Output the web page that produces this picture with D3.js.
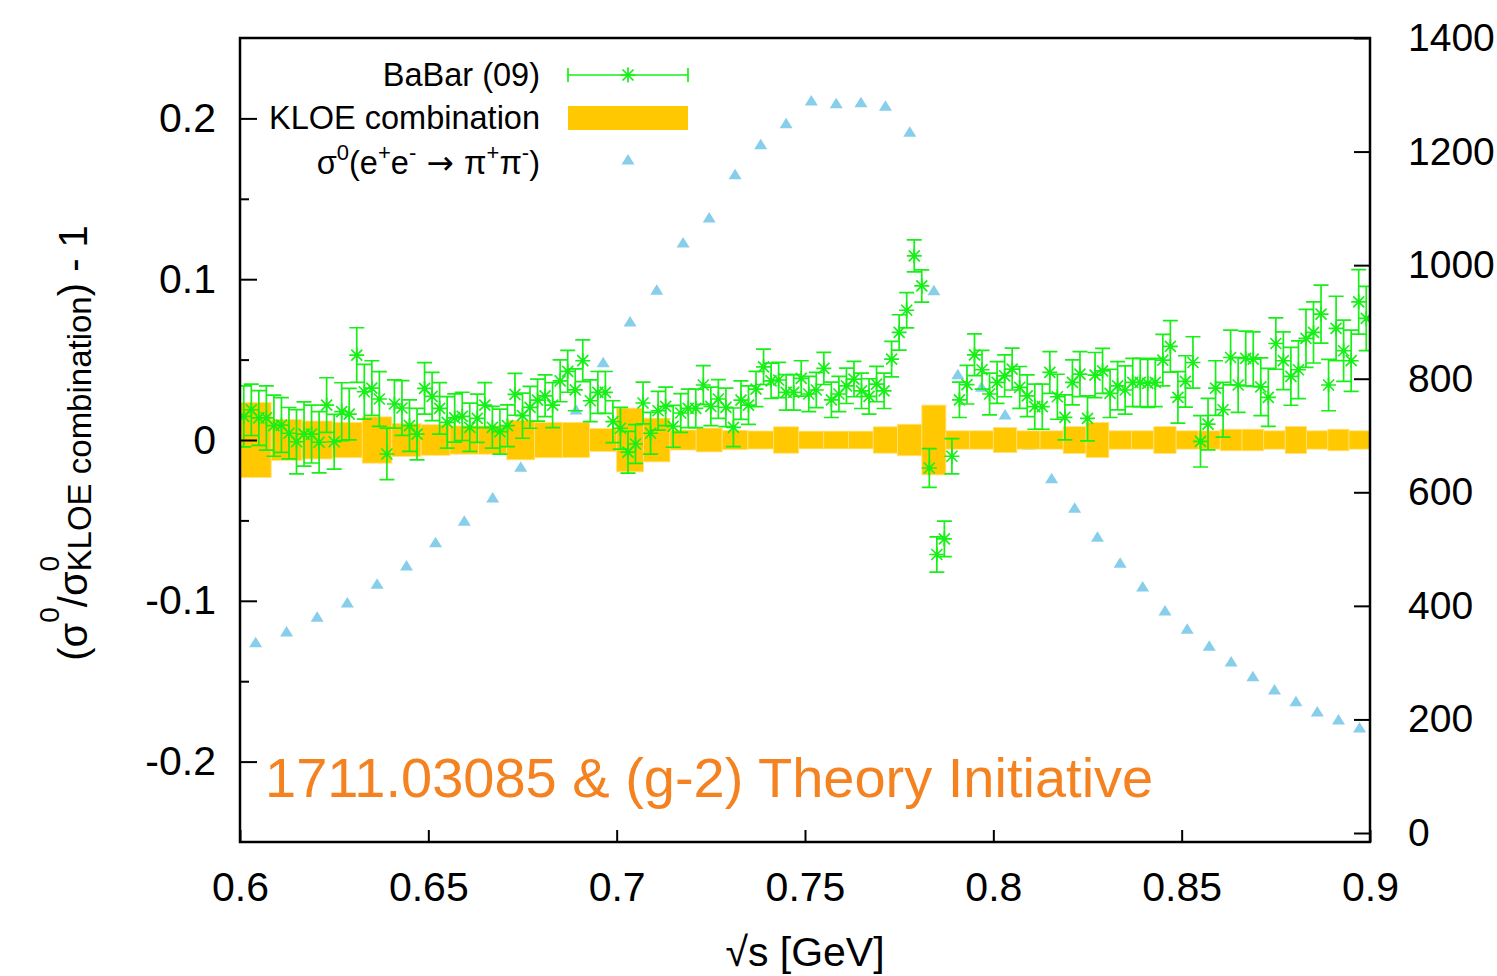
<!DOCTYPE html>
<html>
<head>
<meta charset="utf-8">
<script src="https://cdn.jsdelivr.net/npm/d3@7"></script>
<style>
  body { margin: 0; background: #fff; }
  svg text { font-family: "Liberation Sans", Arial, Helvetica, sans-serif; }
</style>
</head>
<body>
<div id="viz"></div>
<script>
// BaBar (09) points: sqrt(s) [GeV], relative difference, error
var babarE = [
  0.601,0.603,0.605,0.607,0.609,0.611,0.613,0.615,0.617,0.619,
  0.621,0.623,0.625,0.627,0.629,0.631,0.633,0.635,0.637,0.639,
  0.641,0.643,0.645,0.647,0.649,0.651,0.653,0.655,0.657,0.659,
  0.661,0.663,0.665,0.667,0.669,0.671,0.673,0.675,0.677,0.679,
  0.681,0.683,0.685,0.687,0.689,0.691,0.693,0.695,0.697,0.699,
  0.701,0.703,0.705,0.707,0.709,0.711,0.713,0.715,0.717,0.719,
  0.721,0.723,0.725,0.727,0.729,0.731,0.733,0.735,0.737,0.739,
  0.741,0.743,0.745,0.747,0.749,0.751,0.753,0.755,0.757,0.759,
  0.761,0.763,0.765,0.767,0.769,0.771,0.773,0.775,0.777,0.779,
  0.781,0.783,0.785,0.787,0.789,0.791,0.793,0.795,0.797,0.799,
  0.801,0.803,0.805,0.807,0.809,0.811,0.813,0.815,0.817,0.819,
  0.821,0.823,0.825,0.827,0.829,0.831,0.833,0.835,0.837,0.839,
  0.841,0.843,0.845,0.847,0.849,0.851,0.853,0.855,0.857,0.859,
  0.861,0.863,0.865,0.867,0.869,0.871,0.873,0.875,0.877,0.879,
  0.881,0.883,0.885,0.887,0.889,0.891,0.893,0.895,0.897,0.899
];
var babarRel = [
  0.0147,0.0188,0.0137,0.0137,0.0089,0.0093,0.0042,-0.0011,0.0037,0.0037,
  -0.0014,0.0217,-0.0011,0.0176,0.0161,0.0528,0.0300,0.0323,0.0255,-0.0087,
  0.0224,0.0199,0.0089,0.0037,0.0321,0.0271,0.0197,0.0110,0.0137,0.0147,
  0.0079,0.0135,0.0217,0.0079,0.0052,0.0089,0.0284,0.0151,0.0203,0.0248,
  0.0275,0.0217,0.0368,0.0427,0.0312,0.0493,0.0244,0.0296,0.0296,0.0114,
  0.0073,-0.0076,-0.0025,0.0230,0.0042,0.0182,0.0209,0.0085,0.0168,0.0197,
  0.0197,0.0342,0.0209,0.0255,0.0203,0.0079,0.0248,0.0217,0.0317,0.0455,
  0.0368,0.0373,0.0296,0.0296,0.0383,0.0286,0.0311,0.0445,0.0250,0.0286,
  0.0337,0.0379,0.0306,0.0271,0.0348,0.0306,0.0503,0.0669,0.0807,0.1145,
  0.0958,-0.0174,-0.0712,-0.0615,-0.0101,0.0250,0.0344,0.0530,0.0437,0.0286,
  0.0358,0.0399,0.0441,0.0327,0.0275,0.0207,0.0207,0.0420,0.0269,0.0141,
  0.0358,0.0410,0.0135,0.0404,0.0430,0.0290,0.0337,0.0311,0.0358,0.0358,
  0.0352,0.0358,0.0497,0.0582,0.0265,0.0364,0.0482,-0.0008,0.0099,0.0323,
  0.0188,0.0513,0.0342,0.0507,0.0503,0.0331,0.0265,0.0600,0.0493,0.0396,
  0.0437,0.0632,0.0669,0.0783,0.0342,0.0694,0.0555,0.0493,0.0859,0.0756
];
var babarErr = [
  0.019,0.016,0.017,0.020,0.019,0.017,0.016,0.020,0.020,0.018,
  0.019,0.017,0.017,0.018,0.016,0.017,0.017,0.017,0.017,0.016,
  0.015,0.017,0.016,0.016,0.016,0.015,0.016,0.016,0.015,0.015,
  0.015,0.015,0.014,0.013,0.014,0.013,0.013,0.014,0.013,0.013,
  0.013,0.014,0.013,0.013,0.013,0.013,0.013,0.013,0.013,0.013,
  0.013,0.013,0.012,0.013,0.013,0.012,0.012,0.013,0.012,0.012,
  0.012,0.012,0.012,0.012,0.012,0.012,0.012,0.012,0.011,0.011,
  0.011,0.011,0.011,0.011,0.011,0.011,0.011,0.010,0.011,0.011,
  0.011,0.011,0.011,0.011,0.011,0.011,0.011,0.011,0.011,0.010,
  0.010,0.012,0.011,0.011,0.011,0.011,0.012,0.013,0.012,0.013,
  0.013,0.013,0.013,0.013,0.013,0.014,0.014,0.013,0.014,0.014,
  0.014,0.014,0.014,0.014,0.014,0.015,0.015,0.015,0.015,0.015,
  0.015,0.015,0.016,0.016,0.016,0.016,0.016,0.016,0.016,0.017,
  0.017,0.017,0.017,0.017,0.017,0.018,0.018,0.016,0.018,0.018,
  0.018,0.018,0.019,0.018,0.016,0.020,0.019,0.019,0.020,0.020
];

// KLOE combination: bins of 0.01 GeV^2 in s (lower edges), band half-height, cross section [nb]
var kloeS = [
  0.36,0.37,0.38,0.39,0.40,0.41,0.42,0.43,0.44,0.45,
  0.46,0.47,0.48,0.49,0.50,0.51,0.52,0.53,0.54,0.55,
  0.56,0.57,0.58,0.59,0.60,0.61,0.62,0.63,0.64,0.65,
  0.66,0.67,0.68,0.69,0.70,0.71,0.72,0.73,0.74,0.75,
  0.76,0.77,0.78,0.79,0.80
];
var kloeErr = [
  0.0233,0.0127,0.0118,0.0110,0.0144,0.0102,0.0095,0.0088,0.0088,0.0123,
  0.0110,0.0109,0.0071,0.0198,0.0136,0.0062,0.0074,0.0060,0.0056,0.0082,
  0.0055,0.0055,0.0055,0.0082,0.0098,0.0217,0.0057,0.0057,0.0078,0.0057,
  0.0057,0.0083,0.0109,0.0057,0.0057,0.0083,0.0057,0.0057,0.0067,0.0067,
  0.0057,0.0084,0.0057,0.0067,0.0057
];
var sigma0 = [
  335,354,380,405,438,470,511,549,590,644,
  694,745,828,900,956,1039,1083,1159,1212,1249,
  1289,1284,1286,1280,1234,955,807,785,736,683,
  624,572,521,475,433,391,359,329,301,275,
  252,231,213,199,185
];
var binWidthS = 0.01;

var leftTicks = [-0.2, -0.1, 0, 0.1, 0.2];
var leftMinor = [-0.15, -0.05, 0.05, 0.15];
var rightTicks = [0, 200, 400, 600, 800, 1000, 1200, 1400];
var xTicks = [0.6, 0.65, 0.7, 0.75, 0.8, 0.85, 0.9];

function drawChart() {
  var green = "#17f017";
  var yellow = "#ffc800";
  var sky = "#87ceeb";

  var W = 1497, H = 976;
  // plot frame in pixels
  var pL = 240, pR = 1370, pT = 38, pB = 842;

  var svg = d3.select("#viz").append("svg")
      .attr("width", W)
      .attr("height", H);

  var x = d3.scaleLinear().domain([0.6, 0.9]).range([pL, pR]);
  var y = d3.scaleLinear().domain([-0.25, 0.25]).range([pB, pT]);
  var yR = d3.scaleLinear().domain([0, 1400]).range([833, pT]);

  svg.append("clipPath").attr("id", "plotclip")
    .append("rect")
      .attr("x", pL).attr("y", pT)
      .attr("width", pR - pL).attr("height", pB - pT);

  var plot = svg.append("g").attr("clip-path", "url(#plotclip)");

  var triPath = "M0,-6L6.5,4.5L-6.5,4.5Z";
  var starPath = "M-7.5,0H7.5M0,-7.5V7.5M-5.5,-5.5L5.5,5.5M-5.5,5.5L5.5,-5.5";

  var kloe = kloeS.map(function(s, i) {
    return {lo: Math.sqrt(s), hi: Math.sqrt(s + binWidthS), mid: Math.sqrt(s + binWidthS / 2),
            err: kloeErr[i], sig: sigma0[i]};
  });
  var babar = babarE.map(function(e, i) {
    return {e: e, v: babarRel[i], err: babarErr[i]};
  });

  // sigma0 triangles (right axis)
  plot.append("g").selectAll("path")
    .data(kloe)
    .enter().append("path")
      .attr("d", triPath)
      .attr("fill", sky)
      .attr("transform", function(d) { return "translate(" + x(d.mid) + "," + yR(d.sig) + ")"; });

  // KLOE band
  plot.append("g").selectAll("rect")
    .data(kloe)
    .enter().append("rect")
      .attr("x", function(d) { return x(d.lo); })
      .attr("width", function(d) { return x(d.hi) - x(d.lo); })
      .attr("y", function(d) { return y(d.err); })
      .attr("height", function(d) { return y(-d.err) - y(d.err); })
      .attr("fill", yellow)
      .attr("stroke", "#ffe27a")
      .attr("stroke-width", 0.8);

  // BaBar points with error bars
  var pts = plot.append("g")
      .attr("stroke", green)
      .attr("stroke-width", 1.7)
      .attr("fill", "none")
    .selectAll("g")
    .data(babar)
    .enter().append("g");

  pts.append("path")
    .attr("d", function(d) {
      var px = x(d.e), y1 = y(d.v + d.err), y2 = y(d.v - d.err);
      return "M" + px + "," + y1 + "V" + y2 +
             "M" + (px - 7.5) + "," + y1 + "H" + (px + 7.5) +
             "M" + (px - 7.5) + "," + y2 + "H" + (px + 7.5);
    });
  pts.append("path")
    .attr("d", starPath)
    .attr("transform", function(d) { return "translate(" + x(d.e) + "," + y(d.v) + ")"; });
  pts.append("circle")
    .attr("cx", function(d) { return x(d.e); })
    .attr("cy", function(d) { return y(d.v); })
    .attr("r", 2.3)
    .attr("fill", green)
    .attr("stroke", "none");

  // axes
  function styleAxis(g, fs) {
    g.select(".domain").remove();
    g.selectAll(".tick line").attr("stroke", "#000").attr("stroke-width", 2);
    g.selectAll(".tick text").attr("font-size", fs).attr("fill", "#000")
      .attr("font-family", "'Liberation Sans', Arial, sans-serif");
  }

  svg.append("g")
      .attr("transform", "translate(" + pL + ",0)")
      .call(d3.axisLeft(y).tickValues(leftTicks).tickSize(-17).tickPadding(24)
        .tickFormat(function(d) { return d === 0 ? "0" : String(d); }))
      .call(styleAxis, 41);

  svg.append("g")
      .attr("transform", "translate(" + pL + ",0)")
      .call(d3.axisLeft(y).tickValues(leftMinor).tickSize(-9).tickFormat(""))
      .call(styleAxis, 40);

  svg.append("g")
      .attr("transform", "translate(" + pR + ",0)")
      .call(d3.axisRight(yR).tickValues(rightTicks).tickSize(-16).tickPadding(38)
        .tickFormat(function(d) { return String(d); }))
      .call(styleAxis, 39);

  svg.append("g")
      .attr("transform", "translate(0," + pB + ")")
      .call(d3.axisBottom(x).tickValues(xTicks).tickSize(-12).tickPadding(30)
        .tickFormat(function(d) { return String(d); }))
      .call(styleAxis, 41);

  // frame
  svg.append("rect")
      .attr("x", pL).attr("y", pT)
      .attr("width", pR - pL).attr("height", pB - pT)
      .attr("fill", "none")
      .attr("stroke", "#000")
      .attr("stroke-width", 2.5);

  // axis titles
  svg.append("text")
      .attr("x", 805).attr("y", 966)
      .attr("text-anchor", "middle")
      .attr("font-size", 41)
      .text("\u221As [GeV]");

  var yt = svg.append("text")
      .attr("transform", "translate(87,443) rotate(-90)")
      .attr("text-anchor", "middle")
      .attr("font-size", 40);
  yt.append("tspan").text("(\u03c3");
  yt.append("tspan").attr("font-size", 28).attr("dy", -28).text("0");
  yt.append("tspan").attr("dy", 28).text("/\u03c3");
  yt.append("tspan").attr("font-size", 28).attr("dy", -28).text("0");
  yt.append("tspan").attr("font-size", 33).attr("dx", -15.6).attr("dy", 32).text("KLOE combination");
  yt.append("tspan").attr("dy", -4).text(") - 1");

  // legend
  var lg = svg.append("g").attr("font-size", 32.5);
  lg.append("text").attr("x", 540).attr("y", 86).attr("text-anchor", "end").text("BaBar (09)");
  lg.append("text").attr("x", 540).attr("y", 129).attr("text-anchor", "end").text("KLOE combination");
  var st = lg.append("text").attr("x", 540).attr("y", 174).attr("text-anchor", "end");
  st.append("tspan").text("\u03c3");
  st.append("tspan").attr("font-size", 22).attr("dy", -14).text("0");
  st.append("tspan").attr("dy", 14).text("(e");
  st.append("tspan").attr("font-size", 22).attr("dy", -14).text("+");
  st.append("tspan").attr("dy", 14).text("e");
  st.append("tspan").attr("font-size", 22).attr("dy", -14).text("-");
  st.append("tspan").attr("dy", 14).attr("font-family", "'DejaVu Sans', sans-serif").text(" \u2192 ");
  st.append("tspan").text("\u03c0");
  st.append("tspan").attr("font-size", 22).attr("dy", -14).text("+");
  st.append("tspan").attr("dy", 14).text("\u03c0");
  st.append("tspan").attr("font-size", 22).attr("dy", -14).text("-");
  st.append("tspan").attr("dy", 14).text(")");

  var lgB = lg.append("g").attr("stroke", green).attr("stroke-width", 1.7).attr("fill", "none");
  lgB.append("path").attr("d", "M568,75H688M568,68V82M688,68V82");
  lgB.append("path").attr("d", starPath).attr("transform", "translate(628,75)");
  lg.append("circle").attr("cx", 628).attr("cy", 75).attr("r", 2.3).attr("fill", green);
  lg.append("rect").attr("x", 568).attr("y", 106).attr("width", 120).attr("height", 24).attr("fill", yellow);
  lg.append("path").attr("d", triPath).attr("fill", sky).attr("transform", "translate(628,160)");

  // annotation
  svg.append("text")
      .attr("x", 265).attr("y", 797)
      .attr("font-size", 56)
      .attr("fill", "#f58220")
      .text("1711.03085 & (g-2) Theory Initiative");
}

drawChart();
</script>
</body>
</html>
